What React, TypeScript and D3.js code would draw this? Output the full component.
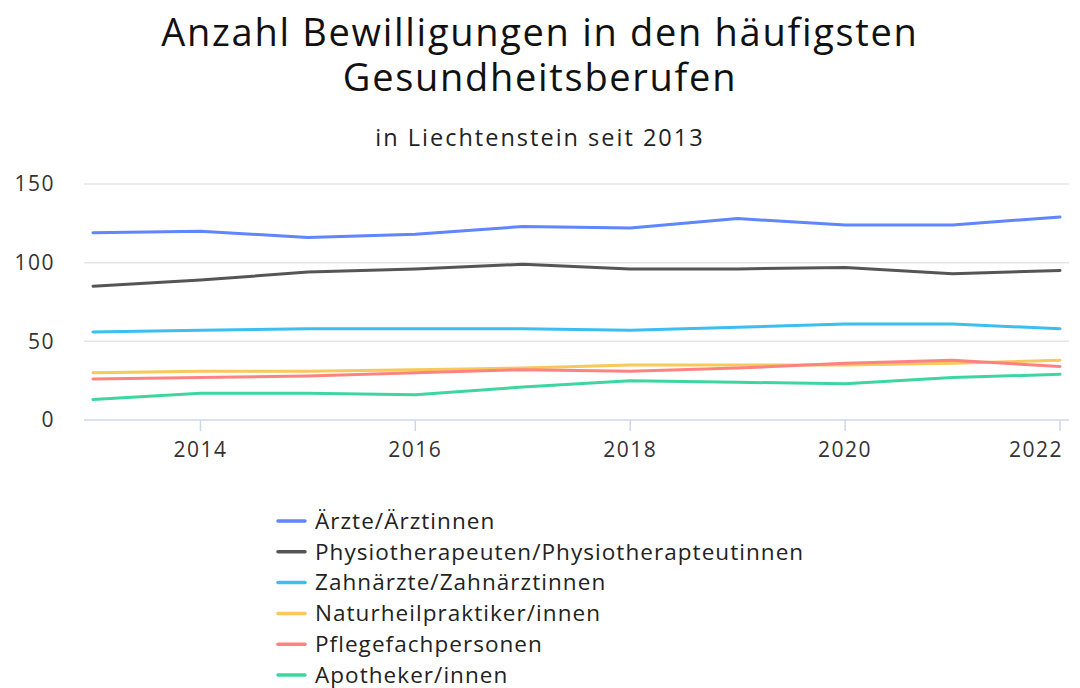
import React from 'react';
import * as d3 from 'd3';

const years = [2013, 2014, 2015, 2016, 2017, 2018, 2019, 2020, 2021, 2022];
const xTicks = [2014, 2016, 2018, 2020, 2022];
const yTicks = [0, 50, 100, 150];

const aerzte = [119, 120, 116, 118, 123, 122, 128, 124, 124, 129];
const physio = [85, 89, 94, 96, 99, 96, 96, 97, 93, 95];
const zahnaerzte = [56, 57, 58, 58, 58, 57, 59, 61, 61, 58];
const naturheil = [30, 31, 31, 32, 33, 35, 35, 35, 36, 38];
const pflege = [26, 27, 28, 30, 32, 31, 33, 36, 38, 34];
const apotheker = [13, 17, 17, 16, 21, 25, 24, 23, 27, 29];

const seriesNames = [
  'Ärzte/Ärztinnen',
  'Physiotherapeuten/Physiotherapteutinnen',
  'Zahnärzte/Zahnärztinnen',
  'Naturheilpraktiker/innen',
  'Pflegefachpersonen',
  'Apotheker/innen',
];
const seriesColors = ['#5f85ff', '#555555', '#3cbef0', '#f7c85a', '#ff8282', '#3dd6a0'];
const seriesValues = [aerzte, physio, zahnaerzte, naturheil, pflege, apotheker];

const font = '"Open Sans", Lato, sans-serif';

export default function App() {
  const width = 1080;
  const height = 688;

  const x = d3.scaleLinear().domain([2013, 2022]).range([93, 1060]);
  const y = d3.scaleLinear().domain([0, 150]).range([420, 184]);
  const plotLeft = 84;
  const plotRight = 1069;

  const line = d3
    .line<number>()
    .x((d, i) => x(years[i]))
    .y((d) => y(d));

  return (
    <svg
      width={width}
      height={height}
      style={{ position: 'absolute', left: 0, top: 0, background: '#fff' }}
      fontFamily={font}
    >
      <text x={540} y={46} textAnchor="middle" fontSize={38} letterSpacing={1.7} fill="#111">
        Anzahl Bewilligungen in den häufigsten
      </text>
      <text x={540} y={91} textAnchor="middle" fontSize={38} letterSpacing={1.7} fill="#111">
        Gesundheitsberufen
      </text>
      <text x={540} y={146} textAnchor="middle" fontSize={23.5} letterSpacing={2} fill="#222">
        in Liechtenstein seit 2013
      </text>

      {yTicks.map((t) => (
        <g key={t}>
          {t > 0 && (
            <line x1={plotLeft} x2={plotRight} y1={y(t)} y2={y(t)} stroke="#e6e6e6" strokeWidth={1.5} />
          )}
          <text x={55} y={y(t)} dy="0.35em" textAnchor="end" fontSize={21} letterSpacing={1.5} fill="#333">
            {t}
          </text>
        </g>
      ))}

      <line x1={plotLeft} x2={plotRight} y1={y(0)} y2={y(0)} stroke="#ccd6eb" strokeWidth={1.5} />
      {xTicks.map((t, i) => (
        <g key={t}>
          <line x1={x(t)} x2={x(t)} y1={y(0)} y2={y(0) + 11} stroke="#ccd6eb" strokeWidth={1.5} />
          <text
            x={i === xTicks.length - 1 ? 1063 : x(t)}
            y={457}
            textAnchor={i === xTicks.length - 1 ? 'end' : 'middle'}
            fontSize={21}
            letterSpacing={1.5}
            fill="#333"
          >
            {t}
          </text>
        </g>
      ))}

      {seriesValues.map((vals, i) => (
        <path
          key={seriesNames[i]}
          d={line(vals) || ''}
          fill="none"
          stroke={seriesColors[i]}
          strokeWidth={3}
          strokeLinejoin="round"
          strokeLinecap="round"
        />
      ))}

      {seriesNames.map((name, i) => {
        const ly = 521 + i * 30.8;
        return (
          <g key={name}>
            <line x1={278} x2={305} y1={ly} y2={ly} stroke={seriesColors[i]} strokeWidth={3.5} strokeLinecap="round" />
            <text x={315} y={ly} dy="0.35em" fontSize={22.5} letterSpacing={1.05} fill="#222">
              {name}
            </text>
          </g>
        );
      })}
    </svg>
  );
}
